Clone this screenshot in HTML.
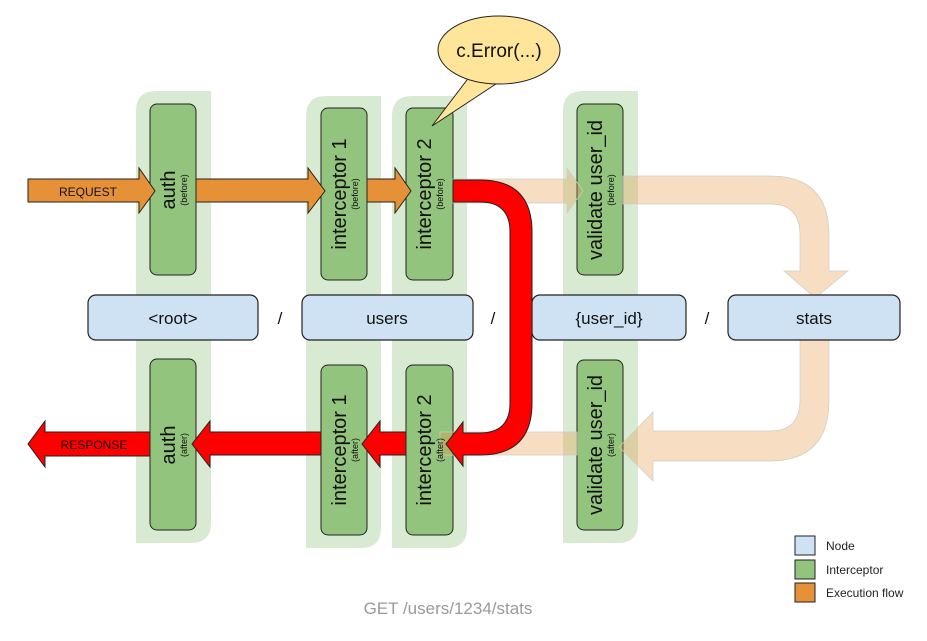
<!DOCTYPE html>
<html><head><meta charset="utf-8"><style>
html,body{margin:0;padding:0;background:#fff;}
svg{display:block;font-family:"Liberation Sans",Arial,sans-serif;}
</style></head><body>
<svg width="927" height="641" viewBox="0 0 927 641" xmlns="http://www.w3.org/2000/svg">
<!-- columns -->
<g fill="#d9ead3">
<path d="M136 91 H211 V523 Q211 543 191 543 H136 V111 Q136 91 156 91Z"/>
<path d="M306 96 H381 V528 Q381 548 361 548 H306 V116 Q306 96 326 96Z"/>
<path d="M392 96 H467 V528 Q467 548 447 548 H392 V116 Q392 96 412 96Z"/>
<path d="M563 91 H638 V523 Q638 543 618 543 H563 V111 Q563 91 583 91Z"/>
</g>
<!-- interceptors -->
<g fill="#93c47d" stroke="#222" stroke-width="1">
<rect x="150" y="104" width="46" height="171" rx="7"/>
<rect x="321" y="108" width="46" height="172" rx="7"/>
<rect x="406" y="108" width="47" height="172" rx="7"/>
<rect x="577" y="104" width="46" height="171" rx="7"/>
<rect x="150" y="359" width="46" height="171" rx="7"/>
<rect x="321" y="365" width="46" height="170" rx="7"/>
<rect x="406" y="365" width="47" height="170" rx="7"/>
<rect x="577" y="360" width="46" height="170" rx="7"/>
</g>
<!-- faded peach flow -->
<g fill="#e69138" fill-opacity="0.3" stroke="#ccc" stroke-width="0.7">
<path d="M453 179 H567 V168 L583 191 L567 213 V203 H453Z"/>
<path d="M623 176 H770 Q829 176 829 235 V271 H848 L815 298 L784 271 H800 V235 Q800 204 770 204 H623Z"/>
<path d="M829 340 V400 Q829 461 770 461 H653 V481 L619 447 L653 412 V431 H770 Q800 431 800 400 V340Z"/>
<path d="M440 432 H577 V455 H440Z"/>
</g>
<!-- nodes -->
<g fill="#cfe2f3" stroke="#222" stroke-width="1.2">
<rect x="88" y="295" width="170" height="45" rx="8"/>
<rect x="302" y="295" width="171" height="45" rx="8"/>
<rect x="532" y="295" width="154" height="45" rx="8"/>
<rect x="728" y="295" width="172" height="45" rx="8"/>
</g>
<g font-size="17" fill="#111" text-anchor="middle">
<text x="173" y="324">&lt;root&gt;</text>
<text x="387" y="324">users</text>
<text x="609" y="324">{user_id}</text>
<text x="814" y="324">stats</text>
<text x="280" y="324">/</text>
<text x="493" y="324">/</text>
<text x="707" y="324">/</text>
</g>
<!-- red path -->
<g fill="#ff0000" stroke="#222" stroke-width="1">
<path d="M453 180 H480 Q532 180 532 232 V403 Q532 455 480 455 H463 V466 L446 444 L463 422 V433 H480 Q510 433 510 403 V232 Q510 202 480 202 H453Z"/>
<path d="M406 432 V455 H380 V467 L362 444 L380 421 V432Z"/>
<path d="M321 432 V455 H210 V467 L192 444 L210 421 V432Z"/>
<path d="M150 432 V456 H45 V467 L28 444 L45 421 V432Z"/>
</g>
<!-- orange -->
<g fill="#e69138" stroke="#222" stroke-width="1">
<path d="M28 179 H139 V168 L155 191 L139 213 V202 H28Z"/>
<path d="M196 179 H308 V168 L325 191 L308 213 V202 H196Z"/>
<path d="M367 179 H395 V168 L411 191 L395 213 V202 H367Z"/>
</g>
<g fill="#111" text-anchor="middle">
<g transform="translate(175,190) rotate(-90)"><text y="0" font-size="20">auth</text><text y="12" font-size="9">(before)</text></g>
<g transform="translate(346,194) rotate(-90)"><text y="0" font-size="20">interceptor 1</text><text y="12" font-size="9">(before)</text></g>
<g transform="translate(431,194) rotate(-90)"><text y="0" font-size="20">interceptor 2</text><text y="12" font-size="9">(before)</text></g>
<g transform="translate(602,190) rotate(-90)"><text y="0" font-size="20">validate user_id</text><text y="12" font-size="9">(before)</text></g>
<g transform="translate(175,445) rotate(-90)"><text y="0" font-size="20">auth</text><text y="12" font-size="9">(after)</text></g>
<g transform="translate(346,450) rotate(-90)"><text y="0" font-size="20">interceptor 1</text><text y="12" font-size="9">(after)</text></g>
<g transform="translate(431,450) rotate(-90)"><text y="0" font-size="20">interceptor 2</text><text y="12" font-size="9">(after)</text></g>
<g transform="translate(602,445) rotate(-90)"><text y="0" font-size="20">validate user_id</text><text y="12" font-size="9">(after)</text></g>
<text x="88" y="196" font-size="12">REQUEST</text>
<text x="94" y="449" font-size="12">RESPONSE</text>
</g>
<!-- bubble -->
<path d="M470 76 L432 126 L502 80Z" fill="#ffe599" stroke="#222" stroke-width="1"/>
<ellipse cx="499" cy="50" rx="61" ry="34" fill="#ffe599" stroke="#222" stroke-width="1"/>
<path d="M472 74 L503 79" stroke="#ffe599" stroke-width="3"/>
<text x="499" y="57" font-size="19" text-anchor="middle" fill="#111">c.Error(...)</text>
<!-- legend -->
<rect x="795" y="536" width="20" height="19" fill="#cfe2f3" stroke="#222"/>
<rect x="795" y="560" width="20" height="19" fill="#93c47d" stroke="#222"/>
<rect x="795" y="583" width="20" height="19" fill="#e69138" stroke="#222"/>
<g font-size="12" fill="#222"><text x="826" y="550">Node</text><text x="826" y="574">Interceptor</text><text x="826" y="597">Execution flow</text></g>
<text x="448" y="614" font-size="17" fill="#999" text-anchor="middle">GET /users/1234/stats</text>
</svg>
</body></html>
